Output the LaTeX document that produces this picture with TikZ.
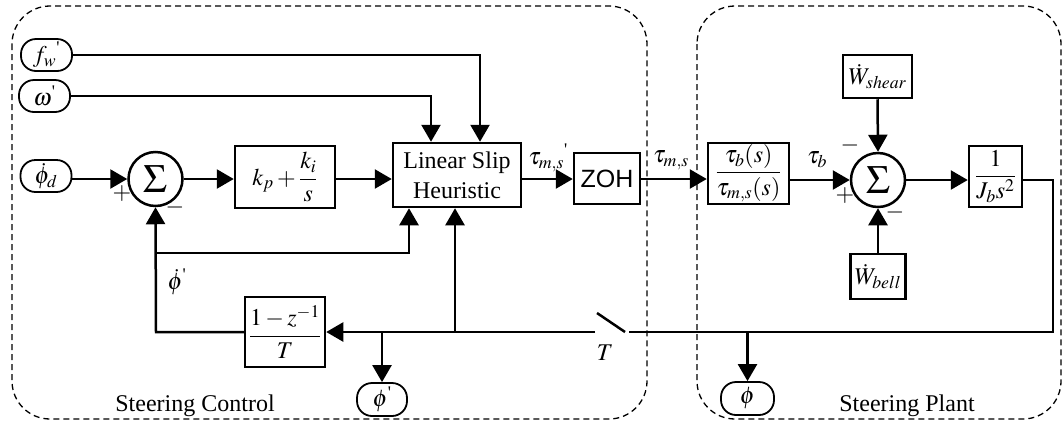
\documentclass[tikz,border=0pt]{standalone}
\usepackage{amsmath}
\usepackage{mathptmx}
\usepackage[no-math]{fontspec}
\setmainfont{Liberation Serif}
\newfontfamily\zohfont{Liberation Sans}
\usetikzlibrary{arrows.meta}
\newcommand\tick{\textnormal{\textquotesingle}}

\begin{document}
\begin{tikzpicture}[x=1pt,y=-1pt,
  every node/.style={font=\fontsize{24}{28}\selectfont},
  wire/.style={line width=2.5pt},
  arr/.style={line width=2.5pt,-{Triangle[length=17pt,width=19pt]}},
  blk/.style={draw,line width=2.5pt,inner sep=0pt,align=center},
  term/.style={draw,line width=1.8pt,rounded corners=15pt,inner sep=0pt,
    minimum width=51pt,minimum height=32pt},
  sumnode/.style={draw,circle,line width=2.5pt,inner sep=0pt,minimum size=54pt,
    font=\fontsize{40}{40}\selectfont},
  region/.style={draw,line width=1.3pt,dash pattern=on 6pt off 4pt,rounded corners=38pt}]

\useasboundingbox (0,0) rectangle (1062,424);

% controller and plant frames
\draw[region] (12,6) rectangle (647,419);
\draw[region] (697,6) rectangle (1061,419);
\node[anchor=base] (lctl) at (195,411) {Steering Control};
\node[anchor=base] (lplt) at (907,411) {Steering Plant};

% inputs
\node[term] (fw) at (46.5,55) {$f_w{}^{\tick}$};
\node[term] (om) at (44.5,96) {$\omega^{\tick}$};
\node[term] (phid) at (46,176) {$\dot\phi_d$};

% controller blocks
\node[sumnode] (s1) at (155.5,179) {$\Sigma$};
\node[blk,minimum width=100pt,minimum height=62pt] (pi) at (285,177) {$k_p+\dfrac{k_i}{s}$};
\node[blk,minimum width=128pt,minimum height=64pt,font=\fontsize{24}{30}\selectfont] (heur) at (457,175) {Linear Slip\\Heuristic};
\node[blk,minimum width=66pt,minimum height=51pt,font=\zohfont\fontsize{25}{28}\selectfont] (zoh) at (607,178.5) {ZOH};
\node[blk,minimum width=80pt,minimum height=70pt] (der) at (285,332) {$\dfrac{1-z^{-1}}{T}$};

% plant blocks
\node[blk,minimum width=81pt,minimum height=61pt] (tf) at (748.5,173.5) {$\dfrac{\tau_b(s)}{\tau_{m,s}(s)}$};
\node[sumnode] (s2) at (878,180) {$\Sigma$};
\node[blk,minimum width=69pt,minimum height=43pt] (wsh) at (877.5,76.5) {$\dot W_{shear}$};
\node[blk,minimum width=55pt,minimum height=45pt] (wbe) at (878,276.5) {$\dot W_{bell}$};
\node[blk,minimum width=53pt,minimum height=61pt] (jb) at (995.5,176.5) {$\dfrac{1}{J_b s^2}$};

% outputs
\node[term,minimum width=50pt,minimum height=33pt] (php) at (382,399.5) {$\phi^{\tick}$};
\node[term,minimum width=53pt,minimum height=33pt] (ph) at (747.5,398.5) {$\phi$};

% signal labels and signs
\node (ltp) at (548,158) {$\tau_{m,s}{}^{\tick}$};
\node (lt) at (671,160) {$\tau_{m,s}$};
\node (ltb) at (817,160) {$\tau_b$};
\node (lpd) at (177,282) {$\dot\phi^{\tick}$};
\node (lT) at (605,353) {$T$};
\node (p1) at (122,193) {$+$};
\node (m1) at (175,207) {$-$};
\node (p2) at (845,195) {$+$};
\node (m2) at (850,145) {$-$};
\node (m3) at (895,212) {$-$};

% junctions and switch
\coordinate (c1) at (156,332);
\coordinate (c2) at (156,253);
\coordinate (c3) at (409,253);
\coordinate (jh) at (455,332);
\coordinate (jp) at (382,332);
\coordinate (sw1) at (595,332);
\coordinate (sw2) at (629,332);
\coordinate (swt) at (597,313);
\coordinate (swb) at (625,332);
\coordinate (jphi) at (747.5,332);
\coordinate (rc) at (1053,332);

% forward path
\draw[arr] (fw.east) -| ([xshift=23pt]heur.north);
\draw[arr] (om.east) -| ([xshift=-26pt]heur.north);
\draw[arr] (phid.east |- s1.west) -- (s1.west);
\draw[arr] (s1.east) -- (pi.west |- s1.east);
\draw[arr] (pi.east |- s1.east) -- (heur.west |- s1.east);
\draw[arr] (heur.east |- s1.east) -- (zoh.west |- s1.east);
\draw[arr] (zoh.east |- s1.east) -- (tf.west |- s1.east);
\draw[arr] (tf.east |- s2.west) -- (s2.west);
\draw[arr] (s2.east) -- (jb.west |- s2.east);
\draw[arr] (wsh.south) -- (s2.north);
\draw[arr] (wbe.north) -- (s2.south);

% feedback path
\draw[wire] (jb.east |- s2.east) -| (rc) -- (sw2);
\draw[wire] (swt) -- (swb);
\draw[arr] (sw1) -- (der.east);
\draw[arr] (jphi) -- (ph.north);
\draw[arr] (jp) -- (php.north);
\draw[arr] (jh) -- (heur.south -| jh);
\draw[arr] (der.west) -- (c1) -- (s1.south);
\draw[arr] (c2) -- (c3) -- (heur.south -| c3);
\end{tikzpicture}
\end{document}
